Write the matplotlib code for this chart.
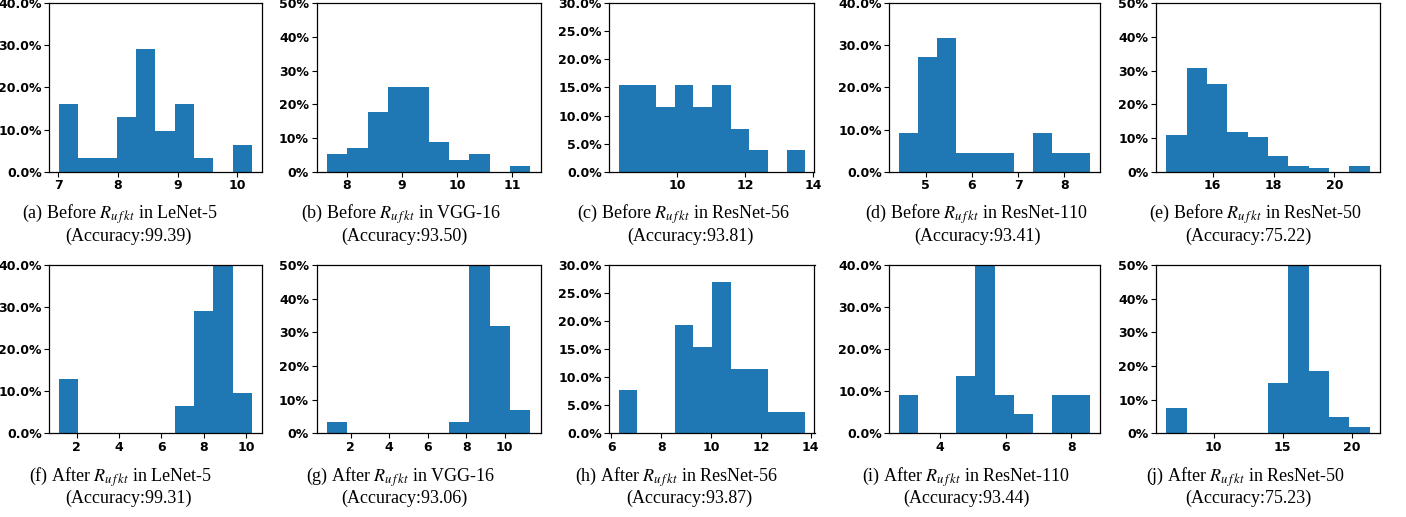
import numpy as np
import matplotlib
matplotlib.use("Agg")
import matplotlib.pyplot as plt
from matplotlib.ticker import FuncFormatter

plt.rcParams['mathtext.fontset'] = 'stix'

# ---------------- data (percent of filters per bin) ----------------
before_ranges = [(7.01, 10.25), (7.638, 11.333), (8.285, 13.756), (4.414, 8.572), (14.472, 21.16)]
before_heights = [
    [16.13, 3.23, 3.23, 12.90, 29.03, 9.68, 16.13, 3.23, 0.0, 6.45],
    [5.36, 7.14, 17.86, 25.0, 25.0, 8.93, 3.57, 5.36, 0.0, 1.79],
    [15.38, 15.38, 11.54, 15.38, 11.54, 15.38, 7.69, 3.85, 0.0, 3.85],
    [9.09, 27.27, 31.82, 4.55, 4.55, 4.55, 0.0, 9.09, 4.55, 4.55],
    [10.8, 30.8, 26.0, 11.7, 10.2, 4.8, 1.8, 1.2, 0.0, 1.8],
]
after_ranges = [(1.16, 10.28), (0.756, 11.33), (6.29, 13.78), (2.754, 8.577), (6.56, 21.3)]
after_heights = [
    [12.90, 0, 0, 0, 0, 0, 6.45, 29.03, 41.94, 9.68],
    [3.45, 0, 0, 0, 0, 0, 3.45, 54.0, 32.0, 7.0],
    [7.69, 0, 0, 19.23, 15.38, 26.92, 11.54, 11.54, 3.85, 3.85],
    [9.09, 0, 0, 13.64, 45.45, 9.09, 4.55, 0, 9.09, 9.09],
    [7.55, 0, 0, 0, 0, 15.0, 52.0, 18.6, 4.9, 1.9],
]
ylims = [40, 50, 30, 40, 50]
ystep = [10, 10, 5, 10, 10]
ydec = [1, 0, 1, 1, 0]
before_xticks = [[7, 8, 9, 10], [8, 9, 10, 11], [10, 12, 14], [5, 6, 7, 8], [16, 18, 20]]
after_xticks = [[2, 4, 6, 8, 10], [2, 4, 6, 8, 10], [6, 8, 10, 12, 14], [4, 6, 8], [10, 15, 20]]

models = ["LeNet-5", "VGG-16", "ResNet-56", "ResNet-110", "ResNet-50"]
acc_before = ["99.39", "93.50", "93.81", "93.41", "75.22"]
acc_after = ["99.31", "93.06", "93.87", "93.44", "75.23"]
letters_before = ["a", "b", "c", "d", "e"]
letters_after = ["f", "g", "h", "i", "j"]

# ---------------- layout ----------------
W, H = 1406, 517
fig = plt.figure(figsize=(W / 100, H / 100), dpi=100)

cols = [(49.3, 261.7), (316.7, 540.5), (609.3, 814.5), (889.3, 1100.0), (1156.0, 1380.0)]
rows = [(3.3, 171.7), (265.0, 433.3)]
cap_centers = [
    [(120, 128), (401, 404), (684, 690), (976, 978), (1255, 1248)],
    [(120, 128), (401, 404), (677, 689), (966, 966), (1245, 1248)],
]
cap_y = [(214, 236), (477, 498)]

color = "#1f77b4"

for r, (ranges, heights, xt, letters, accs, word) in enumerate([
        (before_ranges, before_heights, before_xticks, letters_before, acc_before, "Before"),
        (after_ranges, after_heights, after_xticks, letters_after, acc_after, "After")]):
    top, bot = rows[r]
    for c in range(5):
        l, rr = cols[c]
        ax = fig.add_axes([l / W, 1 - bot / H, (rr - l) / W, (bot - top) / H])
        lo, hi = ranges[c]
        h = np.array(heights[c], dtype=float)
        edges = np.linspace(lo, hi, len(h) + 1)
        centers = 0.5 * (edges[:-1] + edges[1:])
        ax.hist(centers, bins=edges, weights=h, color=color)
        ax.set_ylim(0, ylims[c])
        ax.set_yticks(np.arange(0, ylims[c] + 0.01, ystep[c]))
        d = ydec[c]
        ax.yaxis.set_major_formatter(FuncFormatter(lambda v, p, d=d: f"{v:.{d}f}%"))
        ax.set_xticks(xt[c])
        ax.tick_params(labelsize=9, length=3.5, width=0.8, pad=2)
        for lab in ax.get_xticklabels() + ax.get_yticklabels():
            lab.set_fontweight("bold")
        for s in ax.spines.values():
            s.set_linewidth(0.9)
        cx1, cx2 = cap_centers[r][c]
        y1, y2 = cap_y[r]
        fig.text(cx1 / W, 1 - y1 / H,
                 f"({letters[c]}) {word} $R_{{u\\,f\\,kt}}$ in {models[c]}",
                 ha="center", va="center", fontsize=13, family="Liberation Serif")
        fig.text(cx2 / W, 1 - y2 / H, f"(Accuracy:{accs[c]})",
                 ha="center", va="center", fontsize=13, family="Liberation Serif")

fig.savefig("out.png", dpi=100)
